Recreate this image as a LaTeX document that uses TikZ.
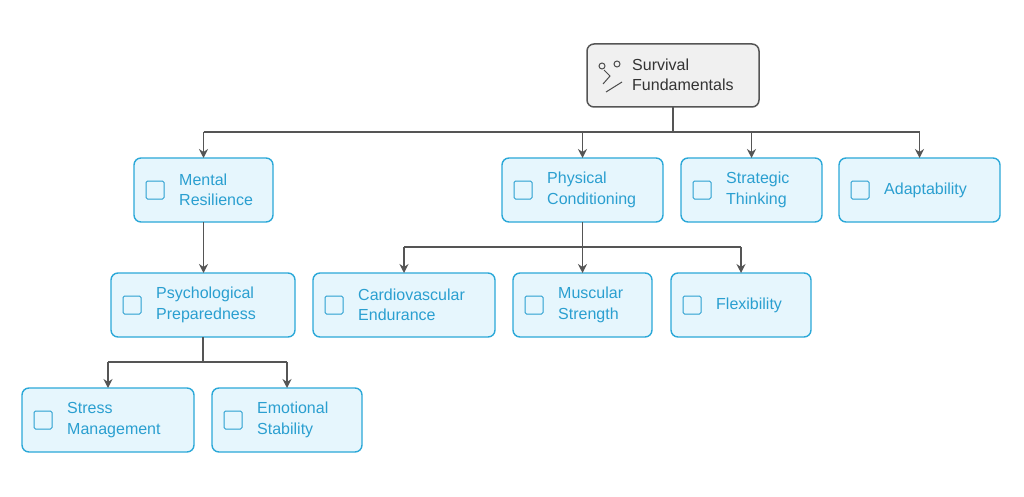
\documentclass[tikz,border=0pt]{standalone}
\usepackage{fontspec}
\setmainfont{Liberation Sans}
\usetikzlibrary{arrows.meta}
\definecolor{bfill}{HTML}{E6F6FD}
\definecolor{bline}{HTML}{2BA8D8}
\definecolor{btext}{HTML}{2A9FD0}
\definecolor{lgray}{HTML}{555555}
\begin{document}
\begin{tikzpicture}[x=1pt,y=-1pt,
 box/.style={draw=bline,fill=bfill,line width=1.4pt,rounded corners=7pt},
 lbl/.style={text=btext,font=\fontsize{16}{20.5}\selectfont,align=left,anchor=west,inner sep=0pt},
 ico/.style={draw=btext,line width=1pt,rounded corners=1.5pt},
 con/.style={draw=lgray,line width=1.5pt},
 arr/.style={con,-{Stealth[length=9pt,width=9pt]}}]
\useasboundingbox (0,0) rectangle (1024,497);
\draw[draw=lgray,fill=gray!12,line width=1.5pt,rounded corners=7pt] (587,44) rectangle (759,107);
\node[text=black!80,font=\fontsize{16}{20.5}\selectfont,align=left,anchor=west,inner sep=0pt] (root) at (632,75) {Survival\\Fundamentals};
\draw[draw=black!70,line width=1pt] (602,66) circle (3) (604,70)--(610,76)--(603,84) (617,64) circle (3) (606,92)--(622,82);
\foreach \n/\a/\b/\c/\d/\t in {
 mr/134/158/273/222/{Mental\\Resilience},
 pc/502/158/663/222/{Physical\\Conditioning},
 st/681/158/822/222/{Strategic\\Thinking},
 ad/839/158/1000/222/{Adaptability},
 pp/111/273/295/337/{Psychological\\Preparedness},
 ce/313/273/495/337/{Cardiovascular\\Endurance},
 ms/513/273/652/337/{Muscular\\Strength},
 fl/671/273/811/337/{Flexibility},
 sm/22/388/194/452/{Stress\\Management},
 es/212/388/362/452/{Emotional\\Stability}}{
 \draw[box] (\a,\b) rectangle (\c,\d);
 \coordinate (\n t) at ({(\a+\c)/2},\b);
 \coordinate (\n b) at ({(\a+\c)/2},\d);
 \node[lbl] (\n) at (\a+45,{(\b+\d)/2}) {\t};
 \draw[ico] (\a+12,{(\b+\d)/2-9}) rectangle (\a+30,{(\b+\d)/2+9});
}
\coordinate (rootb) at (673,107);
\coordinate (bus1) at (0,132);
\coordinate (bus2) at (0,247);
\coordinate (bus3) at (0,362);
\draw[con] (rootb) -- (rootb|-bus1);
\draw[con] (mrt|-bus1) -- (adt|-bus1);
\draw[arr] (mrt|-bus1) -- (mrt);
\draw[arr] (pct|-bus1) -- (pct);
\draw[arr] (stt|-bus1) -- (stt);
\draw[arr] (adt|-bus1) -- (adt);
\draw[arr] (mrb) -- (mrb|-ppt);
\draw[con] (pcb) -- (pcb|-bus2);
\draw[con] (cet|-bus2) -- (flt|-bus2);
\draw[arr] (cet|-bus2) -- (cet);
\draw[arr] (mst|-bus2) -- (mst);
\draw[arr] (flt|-bus2) -- (flt);
\draw[con] (ppb) -- (ppb|-bus3);
\draw[con] (smt|-bus3) -- (est|-bus3);
\draw[arr] (smt|-bus3) -- (smt);
\draw[arr] (est|-bus3) -- (est);
\end{tikzpicture}
\end{document}
